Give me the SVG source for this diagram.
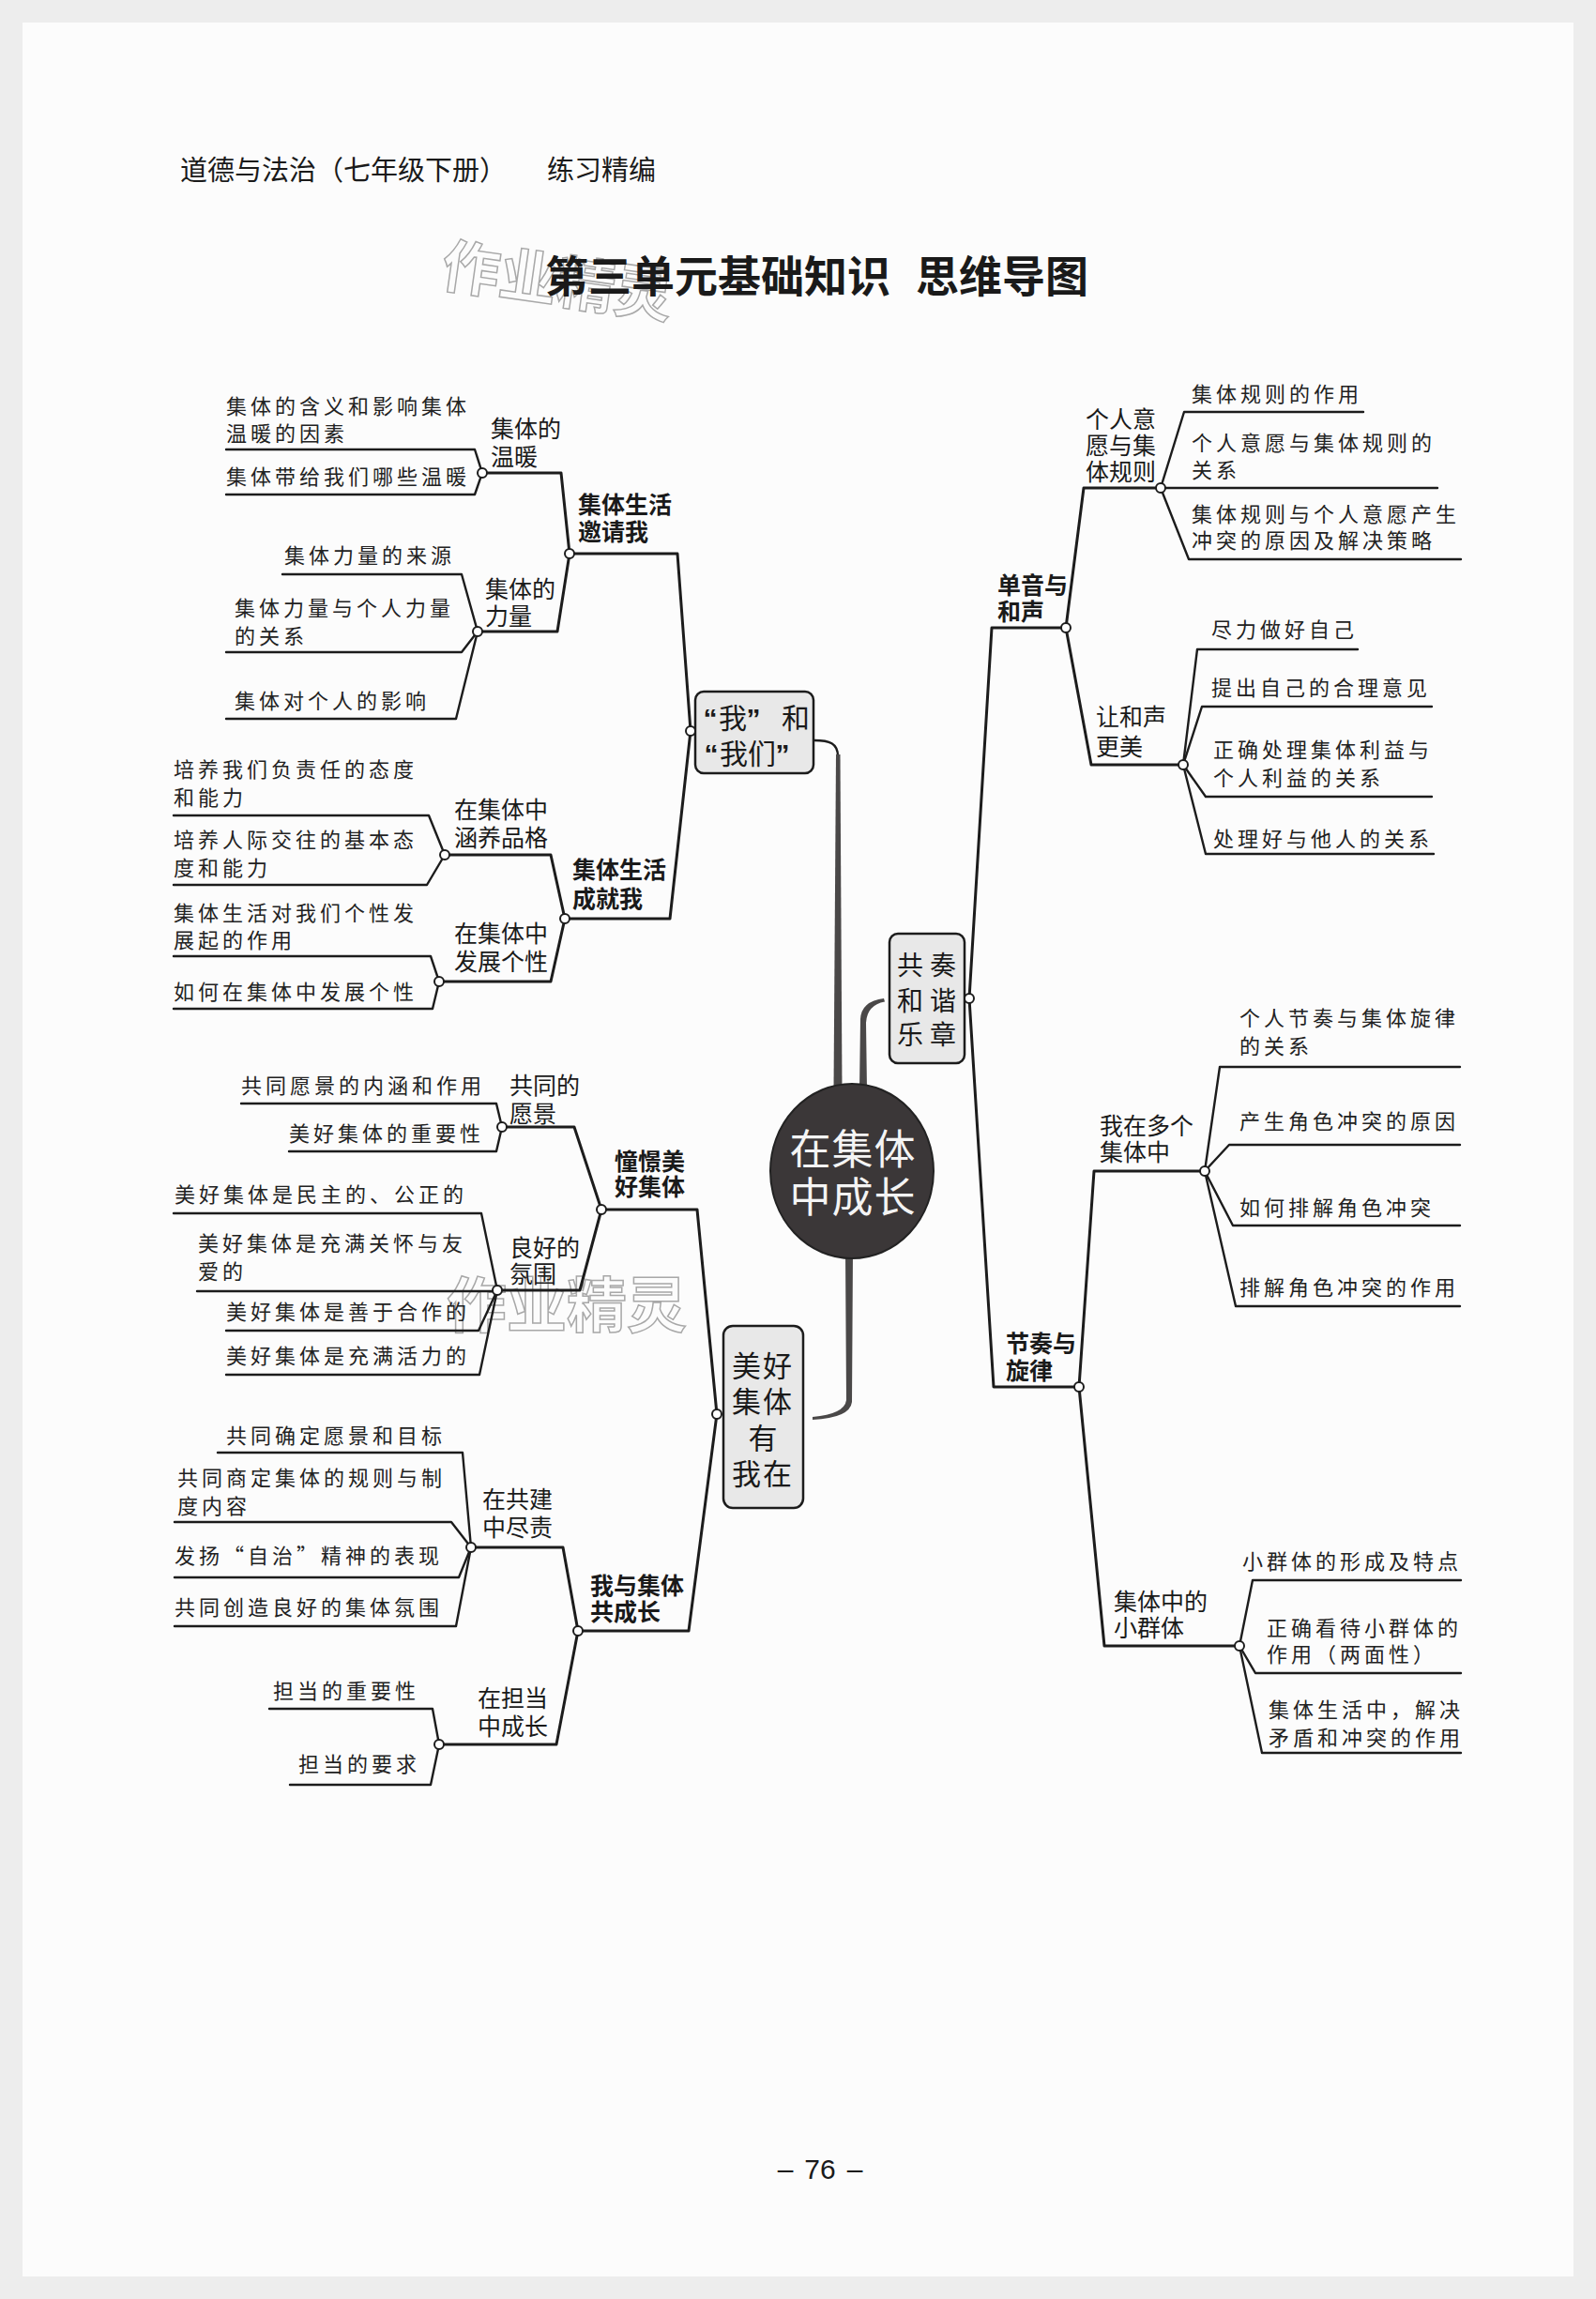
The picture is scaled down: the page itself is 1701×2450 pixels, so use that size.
<svg xmlns="http://www.w3.org/2000/svg" width="1701" height="2450" viewBox="0 0 1701 2450">
<style>
text { font-family: "Noto Sans CJK SC", "Noto Sans CJK JP", sans-serif; fill: #1a1a1a; }
.leaf { font-size: 22px; letter-spacing: 4px; fill: #222; }
.sub { font-size: 25px; }
.bld { font-size: 25px; font-weight: bold; }
.ln { fill: none; stroke: #1c1c1c; stroke-width: 2.4; stroke-linejoin: round; stroke-linecap: round; }
.br { stroke-width: 3; }
.dot { fill: #fff; stroke: #1c1c1c; stroke-width: 2; }
.trunk { fill: #4a4848; stroke: none; }
.bx { fill: #e8e8e8; stroke: #1c1c1c; stroke-width: 2.5; }
.boxt { font-size: 30px; text-anchor: middle; }
.q { font-family: "Liberation Sans", sans-serif; font-weight: bold; }
.wm { font-family: "Noto Sans CJK SC", sans-serif; font-weight: bold; fill: none; stroke: #a8a8a8; stroke-width: 1.5; }
.pn { font-family: "Liberation Sans", sans-serif; font-size: 30px; text-anchor: middle; }
</style>
<rect x="0" y="0" width="1701" height="2450" fill="#fcfcfc"/>
<rect x="12" y="12" width="1677" height="2426" fill="none" stroke="#ededed" stroke-width="24"/>

<g id="header">
<text x="192" y="192" font-size="29">道德与法治（七年级下册）</text>
<text x="583" y="192" font-size="29">练习精编</text>
</g>

<g id="watermarks">
<text class="wm" x="470" y="322" font-size="62" transform="rotate(8 594 300)">作业精灵</text>
<text class="wm" x="476" y="1414" font-size="64">作业精灵</text>
</g>

<g id="title">
<text x="581" y="311" font-size="46" font-weight="bold">第三单元基础知识</text>
<text x="976" y="311" font-size="46" font-weight="bold">思维导图</text>
</g>

<g id="connectors">
<!-- trunks from centre -->
<path class="ln" d="M 868 789 C 884 789 893 792 893 806" stroke="#4a4848" stroke-width="2"/>
<path class="trunk" d="M 891 804 L 895.5 804 L 897.5 1162 L 888.5 1162 Z"/>
<path class="trunk" d="M 916 1162 L 917 1086 Q 918 1067 942 1064 L 943 1067.5 Q 924 1071 923 1090 L 924 1162 Z"/>
<path class="trunk" d="M 901 1334 L 909 1334 L 908 1494 Q 906 1511 866 1513 L 866 1510 Q 900 1507 902 1492 Z"/>

<!-- 集体生活邀请我 -->
<polyline class="ln br" points="736,779 722,590 607,590"/>
<polyline class="ln br" points="607,590 598,504 514,504"/>
<polyline class="ln" points="241,479 506,479 514,504"/>
<polyline class="ln" points="241,527 506,527 514,504"/>
<polyline class="ln br" points="607,590 594,673 509,673"/>
<polyline class="ln" points="301,612 492,612 509,673"/>
<polyline class="ln" points="241,695 492,695 509,673"/>
<polyline class="ln" points="241,766 486,766 509,673"/>

<!-- 集体生活成就我 -->
<polyline class="ln br" points="736,779 714,979 602,979"/>
<polyline class="ln br" points="602,979 587,911 474,911"/>
<polyline class="ln" points="185,869 457,869 474,911"/>
<polyline class="ln" points="185,943 455,943 474,911"/>
<polyline class="ln br" points="602,979 587,1046 468,1046"/>
<polyline class="ln" points="185,1019 459,1019 468,1046"/>
<polyline class="ln" points="185,1075 461,1075 468,1046"/>

<!-- 憧憬美好集体 -->
<polyline class="ln br" points="764,1507 743,1289 641,1289"/>
<polyline class="ln br" points="641,1289 612,1201 535,1201"/>
<polyline class="ln" points="257,1176 529,1176 535,1201"/>
<polyline class="ln" points="308,1227 529,1227 535,1201"/>
<polyline class="ln br" points="641,1289 618,1375 530,1375"/>
<polyline class="ln" points="185,1293 513,1293 530,1375"/>
<polyline class="ln" points="210,1376 530,1376"/>
<polyline class="ln" points="241,1418 510,1418 530,1375"/>
<polyline class="ln" points="241,1465 511,1465 530,1375"/>

<!-- 我与集体共成长 -->
<polyline class="ln br" points="764,1507 734,1738 616,1738"/>
<polyline class="ln br" points="616,1738 600,1649 502,1649"/>
<polyline class="ln" points="232,1548 493,1548 502,1649"/>
<polyline class="ln" points="186,1622 481,1622 502,1649"/>
<polyline class="ln" points="186,1681 489,1681 502,1649"/>
<polyline class="ln" points="186,1733 486,1733 502,1649"/>
<polyline class="ln br" points="616,1738 593,1859 468,1859"/>
<polyline class="ln" points="287,1821 461,1821 468,1859"/>
<polyline class="ln" points="309,1902 459,1902 468,1859"/>

<!-- 单音与和声 -->
<polyline class="ln br" points="1033,1064 1057,669 1136,669"/>
<polyline class="ln br" points="1136,669 1155,520 1237,520"/>
<polyline class="ln" points="1237,520 1262,439 1453,439"/>
<polyline class="ln" points="1237,520 1532,520"/>
<polyline class="ln" points="1237,520 1267,596 1557,596"/>
<polyline class="ln br" points="1136,669 1163,815 1261,815"/>
<polyline class="ln" points="1261,815 1276,692 1447,692"/>
<polyline class="ln" points="1261,815 1281,753 1526,753"/>
<polyline class="ln" points="1261,815 1285,849 1526,849"/>
<polyline class="ln" points="1261,815 1285,910 1528,910"/>

<!-- 节奏与旋律 -->
<polyline class="ln br" points="1033,1064 1059,1478 1150,1478"/>
<polyline class="ln br" points="1150,1478 1166,1248 1284,1248"/>
<polyline class="ln" points="1284,1248 1300,1137 1556,1137"/>
<polyline class="ln" points="1284,1248 1310,1220 1556,1220"/>
<polyline class="ln" points="1284,1248 1314,1306 1556,1306"/>
<polyline class="ln" points="1284,1248 1317,1392 1556,1392"/>
<polyline class="ln br" points="1150,1478 1177,1754 1321,1754"/>
<polyline class="ln" points="1321,1754 1335,1684 1557,1684"/>
<polyline class="ln" points="1321,1754 1338,1783 1557,1783"/>
<polyline class="ln" points="1321,1754 1345,1868 1557,1868"/>

<!-- junction dots -->
<circle class="dot" cx="514" cy="504" r="5"/>
<circle class="dot" cx="607" cy="590" r="5"/>
<circle class="dot" cx="509" cy="673" r="5"/>
<circle class="dot" cx="602" cy="979" r="5"/>
<circle class="dot" cx="474" cy="911" r="5"/>
<circle class="dot" cx="468" cy="1046" r="5"/>
<circle class="dot" cx="641" cy="1289" r="5"/>
<circle class="dot" cx="535" cy="1201" r="5"/>
<circle class="dot" cx="530" cy="1375" r="5"/>
<circle class="dot" cx="616" cy="1738" r="5"/>
<circle class="dot" cx="502" cy="1649" r="5"/>
<circle class="dot" cx="468" cy="1859" r="5"/>
<circle class="dot" cx="1136" cy="669" r="5"/>
<circle class="dot" cx="1237" cy="520" r="5"/>
<circle class="dot" cx="1261" cy="815" r="5"/>
<circle class="dot" cx="1150" cy="1478" r="5"/>
<circle class="dot" cx="1284" cy="1248" r="5"/>
<circle class="dot" cx="1321" cy="1754" r="5"/>
</g>

<g id="n-root">
<ellipse cx="908" cy="1248" rx="87" ry="93" fill="#3b3738" stroke="#222" stroke-width="2"/>
<text x="909" y="1241" font-size="44" text-anchor="middle" letter-spacing="1" style="fill:#f4f4f4">在集体</text>
<text x="909" y="1292" font-size="44" text-anchor="middle" letter-spacing="1" style="fill:#f4f4f4">中成长</text>
</g>

<g id="n-wo-women">
<rect class="bx" x="741" y="737" width="126" height="87" rx="9"/>
<text class="boxt" y="776"><tspan class="q" x="757">“</tspan><tspan x="781">我</tspan><tspan class="q" x="803">”</tspan><tspan x="848">和</tspan></text>
<text class="boxt" y="814"><tspan class="q" x="758">“</tspan><tspan x="782">我</tspan><tspan x="812">们</tspan><tspan class="q" x="834">”</tspan></text>
<circle class="dot" cx="736" cy="779" r="5"/>
</g>

<g id="n-meihao">
<rect class="bx" x="771" y="1413" width="85" height="194" rx="10"/>
<text x="813" y="1467" font-size="31" text-anchor="middle" letter-spacing="2">美好</text>
<text x="813" y="1505" font-size="31" text-anchor="middle" letter-spacing="2">集体</text>
<text x="813" y="1544" font-size="31" text-anchor="middle">有</text>
<text x="813" y="1582" font-size="31" text-anchor="middle" letter-spacing="2">我在</text>
<circle class="dot" cx="764" cy="1507" r="5"/>
</g>

<g id="n-gongzou">
<rect class="bx" x="948" y="995" width="80" height="138" rx="9"/>
<text x="991" y="1039" font-size="28" text-anchor="middle" letter-spacing="7">共奏</text>
<text x="991" y="1077" font-size="28" text-anchor="middle" letter-spacing="7">和谐</text>
<text x="991" y="1113" font-size="28" text-anchor="middle" letter-spacing="7">乐章</text>
<circle class="dot" cx="1033" cy="1064" r="5"/>
</g>

<g id="n-yaoqing">
<text class="bld" x="616" y="547">集体生活</text>
<text class="bld" x="616" y="576">邀请我</text>
</g>
<g id="n-wennuan">
<text class="sub" x="523" y="466">集体的</text>
<text class="sub" x="523" y="496">温暖</text>
</g>
<g id="n-wennuan-leaves">
<text class="leaf" x="241" y="441">集体的含义和影响集体</text>
<text class="leaf" x="241" y="470">温暖的因素</text>
<text class="leaf" x="241" y="516">集体带给我们哪些温暖</text>
</g>
<g id="n-liliang">
<text class="sub" x="517" y="637">集体的</text>
<text class="sub" x="517" y="666">力量</text>
</g>
<g id="n-liliang-leaves">
<text class="leaf" x="303" y="600">集体力量的来源</text>
<text class="leaf" x="250" y="656">集体力量与个人力量</text>
<text class="leaf" x="250" y="686">的关系</text>
<text class="leaf" x="250" y="755">集体对个人的影响</text>
</g>

<g id="n-chengjiu">
<text class="bld" x="610" y="936">集体生活</text>
<text class="bld" x="610" y="967">成就我</text>
</g>
<g id="n-pinge">
<text class="sub" x="484" y="872">在集体中</text>
<text class="sub" x="484" y="902">涵养品格</text>
</g>
<g id="n-pinge-leaves">
<text class="leaf" x="185" y="828">培养我们负责任的态度</text>
<text class="leaf" x="185" y="858">和能力</text>
<text class="leaf" x="185" y="903">培养人际交往的基本态</text>
<text class="leaf" x="185" y="933">度和能力</text>
</g>
<g id="n-gexing">
<text class="sub" x="484" y="1004">在集体中</text>
<text class="sub" x="484" y="1034">发展个性</text>
</g>
<g id="n-gexing-leaves">
<text class="leaf" x="185" y="981">集体生活对我们个性发</text>
<text class="leaf" x="185" y="1010">展起的作用</text>
<text class="leaf" x="185" y="1065">如何在集体中发展个性</text>
</g>

<g id="n-chongjing">
<text class="bld" x="655" y="1247">憧憬美</text>
<text class="bld" x="655" y="1274">好集体</text>
</g>
<g id="n-yuanjing">
<text class="sub" x="543" y="1166">共同的</text>
<text class="sub" x="543" y="1196">愿景</text>
</g>
<g id="n-yuanjing-leaves">
<text class="leaf" x="257" y="1165">共同愿景的内涵和作用</text>
<text class="leaf" x="308" y="1216">美好集体的重要性</text>
</g>
<g id="n-fenwei">
<text class="sub" x="543" y="1339">良好的</text>
<text class="sub" x="543" y="1367">氛围</text>
</g>
<g id="n-fenwei-leaves">
<text class="leaf" x="186" y="1281">美好集体是民主的、公正的</text>
<text class="leaf" x="211" y="1333">美好集体是充满关怀与友</text>
<text class="leaf" x="211" y="1363">爱的</text>
<text class="leaf" x="241" y="1406">美好集体是善于合作的</text>
<text class="leaf" x="241" y="1453">美好集体是充满活力的</text>
</g>

<g id="n-gongchengzhang">
<text class="bld" x="629" y="1699">我与集体</text>
<text class="bld" x="629" y="1727">共成长</text>
</g>
<g id="n-gongjian">
<text class="sub" x="514" y="1607">在共建</text>
<text class="sub" x="514" y="1637">中尽责</text>
</g>
<g id="n-gongjian-leaves">
<text class="leaf" x="241" y="1538">共同确定愿景和目标</text>
<text class="leaf" x="189" y="1583">共同商定集体的规则与制</text>
<text class="leaf" x="189" y="1613">度内容</text>
<text class="leaf" x="186" y="1666">发扬“自治”精神的表现</text>
<text class="leaf" x="186" y="1721">共同创造良好的集体氛围</text>
</g>
<g id="n-dandang">
<text class="sub" x="509" y="1819">在担当</text>
<text class="sub" x="509" y="1849">中成长</text>
</g>
<g id="n-dandang-leaves">
<text class="leaf" x="291" y="1810">担当的重要性</text>
<text class="leaf" x="318" y="1888">担当的要求</text>
</g>

<g id="n-danyin">
<text class="bld" x="1063" y="633">单音与</text>
<text class="bld" x="1063" y="661">和声</text>
</g>
<g id="n-guize">
<text class="sub" x="1157" y="456">个人意</text>
<text class="sub" x="1157" y="484">愿与集</text>
<text class="sub" x="1157" y="512">体规则</text>
</g>
<g id="n-guize-leaves">
<text class="leaf" x="1270" y="428">集体规则的作用</text>
<text class="leaf" x="1270" y="480">个人意愿与集体规则的</text>
<text class="leaf" x="1270" y="509">关系</text>
<text class="leaf" x="1270" y="556">集体规则与个人意愿产生</text>
<text class="leaf" x="1270" y="584">冲突的原因及解决策略</text>
</g>
<g id="n-hesheng">
<text class="sub" x="1168" y="773">让和声</text>
<text class="sub" x="1168" y="805">更美</text>
</g>
<g id="n-hesheng-leaves">
<text class="leaf" x="1291" y="679">尽力做好自己</text>
<text class="leaf" x="1291" y="741">提出自己的合理意见</text>
<text class="leaf" x="1293" y="807">正确处理集体利益与</text>
<text class="leaf" x="1293" y="837">个人利益的关系</text>
<text class="leaf" x="1293" y="902">处理好与他人的关系</text>
</g>

<g id="n-jiezou">
<text class="bld" x="1072" y="1441">节奏与</text>
<text class="bld" x="1072" y="1470">旋律</text>
</g>
<g id="n-duoge">
<text class="sub" x="1172" y="1209">我在多个</text>
<text class="sub" x="1172" y="1237">集体中</text>
</g>
<g id="n-duoge-leaves">
<text class="leaf" x="1321" y="1093">个人节奏与集体旋律</text>
<text class="leaf" x="1321" y="1123">的关系</text>
<text class="leaf" x="1321" y="1203">产生角色冲突的原因</text>
<text class="leaf" x="1321" y="1295">如何排解角色冲突</text>
<text class="leaf" x="1321" y="1380">排解角色冲突的作用</text>
</g>
<g id="n-xiaoqunti">
<text class="sub" x="1187" y="1716">集体中的</text>
<text class="sub" x="1187" y="1744">小群体</text>
</g>
<g id="n-xiaoqunti-leaves">
<text class="leaf" x="1324" y="1672">小群体的形成及特点</text>
<text class="leaf" x="1350" y="1743">正确看待小群体的</text>
<text class="leaf" x="1350" y="1771">作用（两面性）</text>
<text class="leaf" x="1352" y="1830">集体生活中，解决</text>
<text class="leaf" x="1352" y="1860">矛盾和冲突的作用</text>
</g>

<g id="page-number">
<text class="pn" y="2322"><tspan x="837">–</tspan><tspan x="874">76</tspan><tspan x="911">–</tspan></text>
</g>
</svg>
